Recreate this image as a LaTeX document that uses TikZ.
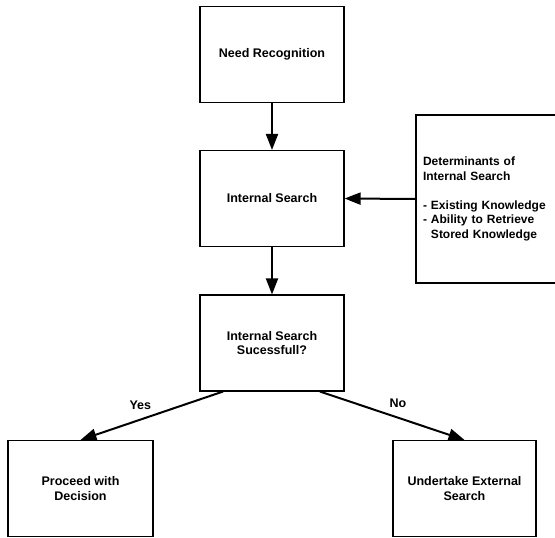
\documentclass[tikz,border=0pt]{standalone}
\usepackage{fontspec}
\setmainfont{Liberation Sans}
\usetikzlibrary{arrows.meta}
\begin{document}
\begin{tikzpicture}[x=1pt,y=-1pt,
    box/.style={draw,line width=1.1pt,minimum width=144pt,minimum height=96pt,align=center,
      font=\bfseries\fontsize{12.5}{14.5}\selectfont},
    flow/.style={line width=2pt,-{Triangle[length=16pt,width=12pt]}},
    lbl/.style={font=\bfseries\fontsize{12.5}{14.5}\selectfont}]
      \clip (0,0) rectangle (555,538);
      \node[box] (need) at (272,54.5) {Need Recognition};
      \node[box] (intern) at (272,198.5) {Internal Search};
      \node[box,minimum height=168pt,text width=130pt,align=left,inner xsep=7pt,
        font=\bfseries\fontsize{12}{14.5}\selectfont] (determ) at (488,199)
        {Determinants of\\Internal Search\\[14.5pt]- Existing Knowledge\\- Ability to Retrieve\\\phantom{- }Stored Knowledge};
      \node[box] (ok) at (272,343) {Internal Search\\Sucessfull?};
      \node[box,minimum width=145pt] (proceed) at (80.5,488.5) {Proceed with\\Decision};
      \node[box,minimum width=143pt] (extern) at (464.5,488.5) {Undertake External\\Search};
      \draw[flow] (need) -- (intern);
      \draw[flow] (intern) -- (ok);
      \draw[flow] (determ.west) -- (intern.east);
      \draw[flow] ([xshift=-49pt]ok.south) -- (proceed.north) node[lbl,pos=0.58,above=6pt] {Yes};
      \draw[flow] ([xshift=48pt]ok.south) -- (extern.north) node[lbl,pos=0.54,above=6pt] {No};
\end{tikzpicture}
\end{document}
